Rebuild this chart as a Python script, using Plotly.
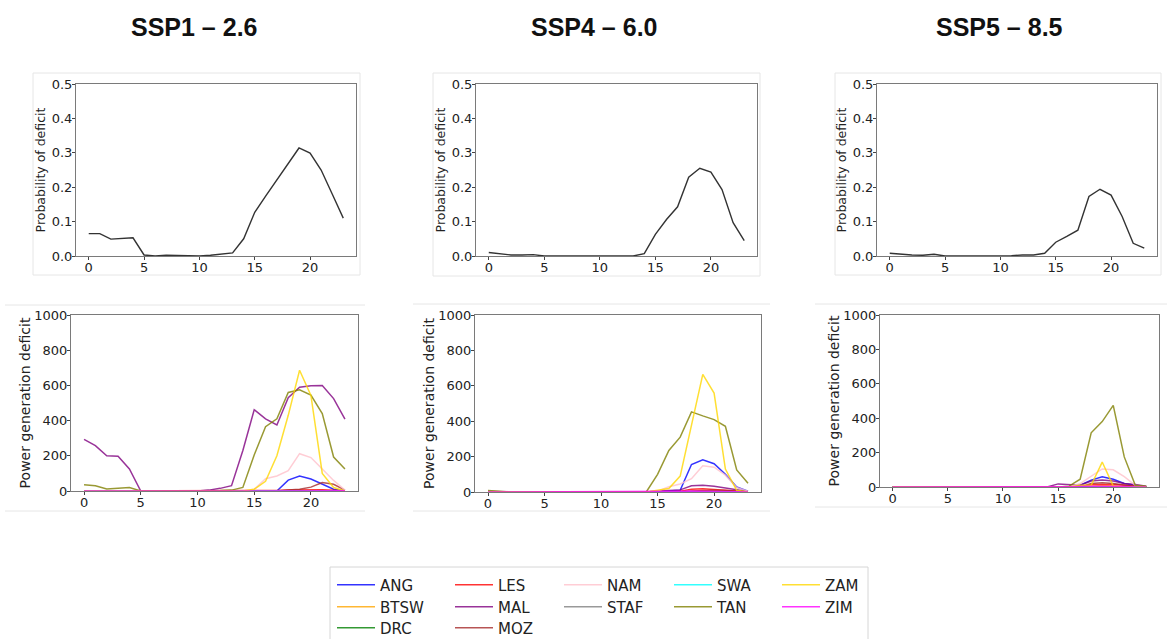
import plotly.graph_objects as go

W, H = 1167, 639

# ---------------- data ----------------
hours = list(range(24))
countries = ["ANG", "BTSW", "DRC", "LES", "MAL", "MOZ", "NAM", "STAF", "SWA", "TAN", "ZAM", "ZIM"]
scenario_titles = ["SSP1 – 2.6", "SSP4 – 6.0", "SSP5 – 8.5"]
x_ticks = [0, 5, 10, 15, 20]
prob_ticks = [0.0, 0.1, 0.2, 0.3, 0.4, 0.5]
deficit_ticks = [0, 200, 400, 600, 800, 1000]

# probability of deficit (top row)
prob_ssp126 = [0.065, 0.065, 0.049, 0.051, 0.053, 0.003, 0.000, 0.002, 0.001, 0.000, 0.000, 0.002,
               0.005, 0.009, 0.050, 0.127, 0.175, 0.222, 0.270, 0.314, 0.299, 0.250, 0.180, 0.110]
prob_ssp460 = [0.010, 0.007, 0.003, 0.003, 0.004, 0.000, 0.000, 0.000, 0.000, 0.000, 0.000, 0.000,
               0.000, 0.000, 0.007, 0.063, 0.106, 0.143, 0.229, 0.255, 0.244, 0.193, 0.097, 0.045]
prob_ssp585 = [0.008, 0.005, 0.003, 0.002, 0.005, 0.000, 0.000, 0.000, 0.000, 0.000, 0.000, 0.001,
               0.003, 0.003, 0.008, 0.040, 0.057, 0.075, 0.173, 0.194, 0.177, 0.115, 0.037, 0.023]

# power generation deficit (bottom row) - SSP1-2.6
ANG_126 = [0, 0, 0, 0, 0, 0, 0, 0, 0, 0, 0, 0, 0, 0, 0, 0, 0, 0, 62, 85, 68, 40, 10, 0]
BTSW_126 = [0, 0, 0, 0, 0, 0, 0, 0, 0, 0, 0, 0, 0, 0, 0, 0, 0, 0, 2, 4, 3, 2, 0, 0]
DRC_126 = [0, 0, 0, 0, 0, 0, 0, 0, 0, 0, 0, 0, 0, 0, 0, 0, 0, 0, 0, 0, 0, 0, 0, 0]
LES_126 = [0, 0, 0, 0, 0, 0, 0, 0, 0, 0, 0, 0, 0, 0, 0, 0, 0, 3, 5, 7, 8, 7, 4, 1]
MAL_126 = [293, 258, 200, 198, 125, 0, 0, 0, 0, 0, 0, 5, 15, 30, 230, 462, 410, 375, 530, 590, 598, 600, 525, 408]
MOZ_126 = [0, 0, 0, 0, 0, 0, 0, 0, 0, 0, 0, 0, 0, 0, 0, 0, 0, 0, 5, 10, 22, 48, 38, 5]
NAM_126 = [0, 0, 0, 0, 0, 0, 0, 0, 0, 0, 0, 0, 0, 0, 0, 10, 70, 85, 115, 212, 190, 125, 60, 5]
STAF_126 = [0, 0, 0, 0, 0, 0, 0, 0, 0, 0, 0, 0, 0, 0, 0, 0, 0, 0, 0, 0, 0, 0, 0, 0]
SWA_126 = [0, 0, 0, 0, 0, 0, 0, 0, 0, 0, 0, 0, 0, 0, 0, 0, 0, 0, 0, 0, 0, 0, 0, 0]
TAN_126 = [35, 30, 12, 15, 20, 0, 0, 2, 0, 0, 0, 0, 3, 5, 20, 205, 365, 410, 560, 575, 545, 440, 193, 125]
ZAM_126 = [0, 0, 0, 0, 0, 0, 0, 0, 0, 0, 0, 0, 0, 0, 0, 10, 55, 200, 430, 686, 543, 100, 20, 0]
ZIM_126 = [0, 0, 0, 0, 0, 0, 0, 0, 0, 0, 0, 0, 0, 0, 1, 2, 3, 3, 4, 4, 3, 3, 2, 1]

# SSP4-6.0
ANG_460 = [0, 0, 0, 0, 0, 0, 0, 0, 0, 0, 0, 0, 0, 0, 0, 0, 5, 10, 155, 182, 160, 100, 28, 5]
BTSW_460 = [0, 0, 0, 0, 0, 0, 0, 0, 0, 0, 0, 0, 0, 0, 0, 0, 0, 0, 3, 5, 4, 2, 0, 0]
DRC_460 = [0, 0, 0, 0, 0, 0, 0, 0, 0, 0, 0, 0, 0, 0, 0, 0, 0, 0, 0, 0, 0, 0, 0, 0]
LES_460 = [0, 0, 0, 0, 0, 0, 0, 0, 0, 0, 0, 0, 0, 0, 0, 0, 0, 5, 15, 18, 15, 12, 8, 2]
MAL_460 = [3, 2, 0, 0, 0, 0, 0, 0, 0, 0, 0, 0, 0, 0, 0, 5, 8, 12, 35, 38, 32, 22, 12, 3]
MOZ_460 = [0, 0, 0, 0, 0, 0, 0, 0, 0, 0, 0, 0, 0, 0, 0, 0, 0, 0, 5, 8, 10, 8, 5, 0]
NAM_460 = [0, 0, 0, 0, 0, 0, 0, 0, 0, 0, 0, 0, 0, 0, 0, 5, 30, 45, 75, 148, 140, 95, 25, 5]
STAF_460 = [0, 0, 0, 0, 0, 0, 0, 0, 0, 0, 0, 0, 0, 0, 0, 0, 0, 0, 0, 0, 0, 0, 0, 0]
SWA_460 = [0, 0, 0, 0, 0, 0, 0, 0, 0, 0, 0, 0, 0, 0, 0, 0, 0, 0, 0, 0, 0, 0, 0, 0]
TAN_460 = [8, 3, 0, 0, 0, 0, 0, 0, 0, 0, 0, 0, 0, 0, 0, 100, 235, 310, 453, 430, 409, 371, 125, 49]
ZAM_460 = [0, 0, 0, 0, 0, 0, 0, 0, 0, 0, 0, 0, 0, 0, 0, 10, 20, 90, 378, 665, 559, 130, 10, 0]
ZIM_460 = [0, 0, 0, 0, 0, 0, 0, 0, 0, 0, 0, 0, 0, 0, 0, 2, 3, 4, 5, 5, 4, 3, 2, 0]

# SSP5-8.5
ANG_585 = [0, 0, 0, 0, 0, 0, 0, 0, 0, 0, 0, 0, 0, 0, 0, 0, 0, 10, 40, 60, 45, 20, 8, 0]
BTSW_585 = [0, 0, 0, 0, 0, 0, 0, 0, 0, 0, 0, 0, 0, 0, 0, 0, 0, 0, 5, 8, 6, 0, 0, 0]
DRC_585 = [0, 0, 0, 0, 0, 0, 0, 0, 0, 0, 0, 0, 0, 0, 0, 0, 0, 0, 0, 0, 0, 0, 0, 0]
LES_585 = [0, 0, 0, 0, 0, 0, 0, 0, 0, 0, 0, 0, 0, 0, 0, 0, 0, 0, 15, 15, 15, 10, 3, 0]
MAL_585 = [0, 0, 0, 0, 0, 0, 0, 0, 0, 0, 0, 0, 0, 0, 0, 18, 15, 10, 35, 40, 35, 20, 15, 5]
MOZ_585 = [0, 0, 0, 0, 0, 0, 0, 0, 0, 0, 0, 0, 0, 0, 0, 0, 0, 0, 20, 25, 20, 10, 3, 0]
NAM_585 = [0, 0, 0, 0, 0, 0, 0, 0, 0, 0, 0, 0, 0, 0, 0, 0, 0, 20, 60, 105, 100, 60, 10, 0]
STAF_585 = [0, 0, 0, 0, 0, 0, 0, 0, 0, 0, 0, 0, 0, 0, 0, 0, 0, 0, 0, 0, 0, 0, 0, 0]
SWA_585 = [0, 0, 0, 0, 0, 0, 0, 0, 0, 0, 0, 0, 0, 0, 0, 0, 0, 0, 0, 0, 0, 0, 0, 0]
TAN_585 = [0, 0, 0, 0, 0, 0, 0, 0, 0, 0, 0, 0, 0, 0, 0, 0, 5, 45, 315, 380, 475, 175, 10, 5]
ZAM_585 = [0, 0, 0, 0, 0, 0, 0, 0, 0, 0, 0, 0, 0, 0, 0, 0, 0, 10, 10, 145, 5, 0, 0, 0]
ZIM_585 = [0, 0, 0, 0, 0, 0, 0, 0, 0, 0, 0, 0, 0, 0, 0, 3, 3, 3, 5, 5, 5, 3, 0, 0]

# ---------------- assembly ----------------
probs = [prob_ssp126, prob_ssp460, prob_ssp585]
deficits = [
    [ANG_126, BTSW_126, DRC_126, LES_126, MAL_126, MOZ_126, NAM_126, STAF_126, SWA_126, TAN_126, ZAM_126, ZIM_126],
    [ANG_460, BTSW_460, DRC_460, LES_460, MAL_460, MOZ_460, NAM_460, STAF_460, SWA_460, TAN_460, ZAM_460, ZIM_460],
    [ANG_585, BTSW_585, DRC_585, LES_585, MAL_585, MOZ_585, NAM_585, STAF_585, SWA_585, TAN_585, ZAM_585, ZIM_585],
]

A = 0.8
colors = {
    "ANG": f"rgba(0,0,255,{A})", "BTSW": f"rgba(255,165,0,{A})", "DRC": f"rgba(0,128,0,{A})",
    "LES": f"rgba(255,0,0,{A})", "MAL": f"rgba(128,0,128,{A})", "MOZ": f"rgba(165,42,42,{A})",
    "NAM": f"rgba(255,192,203,{A})", "STAF": f"rgba(128,128,128,{A})", "SWA": f"rgba(0,255,255,{A})",
    "TAN": f"rgba(128,128,0,{A})", "ZAM": f"rgba(255,215,0,{A})", "ZIM": f"rgba(255,0,255,{A})",
}
# legend laid out column-major in reference: rows become separate legends
legend_row = {"ANG": "legend", "LES": "legend", "NAM": "legend", "SWA": "legend", "ZAM": "legend",
              "BTSW": "legend2", "MAL": "legend2", "STAF": "legend2", "TAN": "legend2", "ZIM": "legend2",
              "DRC": "legend3", "MOZ": "legend3"}
legend_w = {"ANG": 65, "BTSW": 65, "DRC": 65, "LES": 56, "MAL": 56, "MOZ": 56,
            "NAM": 57, "STAF": 57, "SWA": 55, "TAN": 55, "ZAM": 50, "ZIM": 50}

def px(x):
    return x / W

def py(y):
    return 1 - y / H

top_x = [(76, 356), (476, 757), (877, 1157)]
top_y = (84, 256)
bot_x = [(71, 358), (475, 761), (880, 1159)]
bot_y = [(315, 491), (315, 492), (315, 487)]

fig = go.Figure()
FONT = "DejaVu Sans"
tickfont = dict(family=FONT, size=13, color="#222")

for i in range(3):
    xa_t, ya_t = f"x{2*i+1}", f"y{2*i+1}"
    xa_b, ya_b = f"x{2*i+2}", f"y{2*i+2}"
    fig.add_trace(go.Scatter(x=hours, y=probs[i], mode="lines", xaxis=xa_t, yaxis=ya_t,
                             line=dict(color="#333333", width=1.4), showlegend=False))
    for c, vals in zip(countries, deficits[i]):
        fig.add_trace(go.Scatter(x=hours, y=vals, mode="lines", xaxis=xa_b, yaxis=ya_b, name=c,
                                 line=dict(color=colors[c], width=1.5),
                                 showlegend=(i == 0), legend=legend_row[c],
                                 legendwidth=legend_w[c]))

axis_common = dict(showline=True, linecolor="#7a7a7a", linewidth=1, mirror=True, ticks="outside",
                   ticklen=3, tickcolor="#444", showgrid=False, zeroline=False, tickfont=tickfont)
layout = {}
for i in range(3):
    t, b = 2 * i + 1, 2 * i + 2
    layout[f"xaxis{t}"] = dict(domain=[px(top_x[i][0]), px(top_x[i][1])], anchor=f"y{t}",
                               range=[-1.15, 24.15], tickvals=x_ticks, ticklabelstandoff=-4, **axis_common)
    layout[f"yaxis{t}"] = dict(domain=[py(top_y[1]), py(top_y[0])], anchor=f"x{t}",
                               range=[0, 0.5], tickvals=prob_ticks, tickformat=".1f", ticklabelstandoff=-3,
                               title=dict(text="Probability of deficit", font=dict(family=FONT, size=12.5, color="#222"),
                                          standoff=3), **axis_common)
    layout[f"xaxis{b}"] = dict(domain=[px(bot_x[i][0]), px(bot_x[i][1])], anchor=f"y{b}",
                               range=[-1.15, 24.15], tickvals=x_ticks, ticklabelstandoff=-4, **axis_common)
    layout[f"yaxis{b}"] = dict(domain=[py(bot_y[i][1]), py(bot_y[i][0])], anchor=f"x{b}",
                               range=[0, 1000], tickvals=deficit_ticks, ticklabelstandoff=-3,
                               title=dict(text="Power generation deficit", font=dict(family=FONT, size=14, color="#222"),
                                          standoff=0), **axis_common)

legend_common = dict(orientation="h", xanchor="left", yanchor="middle", bgcolor="rgba(0,0,0,0)",
                     borderwidth=0, font=dict(family=FONT, size=15, color="#222"),
                     entrywidthmode="pixels", itemwidth=38, tracegroupgap=0)
layout["legend"] = dict(x=px(332), y=py(585), **legend_common)
layout["legend2"] = dict(x=px(332), y=py(607), **legend_common)
layout["legend3"] = dict(x=px(332), y=py(628), **legend_common)

title_x = [194, 594, 999]
annotations = [dict(text=f"<b>{t}</b>", x=px(cx), y=py(27), xref="paper", yref="paper",
                    xanchor="center", yanchor="middle", showarrow=False,
                    font=dict(family="Liberation Sans, Arial", size=25, color="#111"))
               for t, cx in zip(scenario_titles, title_x)]

faint = dict(color="#e6e6e6", width=1)
shapes = [
    dict(type="rect", xref="paper", yref="paper", x0=px(33), x1=px(360), y0=py(275), y1=py(73), line=faint),
    dict(type="rect", xref="paper", yref="paper", x0=px(433), x1=px(760), y0=py(276), y1=py(73), line=faint),
    dict(type="rect", xref="paper", yref="paper", x0=px(835), x1=px(1161), y0=py(275), y1=py(73), line=faint),
    dict(type="line", xref="paper", yref="paper", x0=px(5), x1=px(365), y0=py(305), y1=py(305), line=faint),
    dict(type="line", xref="paper", yref="paper", x0=px(5), x1=px(365), y0=py(511), y1=py(511), line=faint),
    dict(type="line", xref="paper", yref="paper", x0=px(413), x1=px(770), y0=py(304), y1=py(304), line=faint),
    dict(type="line", xref="paper", yref="paper", x0=px(413), x1=px(770), y0=py(511), y1=py(511), line=faint),
    dict(type="line", xref="paper", yref="paper", x0=px(815), x1=px(1167), y0=py(304), y1=py(304), line=faint),
    dict(type="line", xref="paper", yref="paper", x0=px(815), x1=px(1167), y0=py(507), y1=py(507), line=faint),
    dict(type="rect", xref="paper", yref="paper", x0=px(330), x1=px(868), y0=py(645), y1=py(567),
         line=dict(color="#d6d6d6", width=1)),
]

fig.update_layout(width=W, height=H, margin=dict(l=0, r=0, t=0, b=0, autoexpand=False),
                  plot_bgcolor="white", paper_bgcolor="white",
                  annotations=annotations, shapes=shapes, **layout)

fig.write_html("out.html")
